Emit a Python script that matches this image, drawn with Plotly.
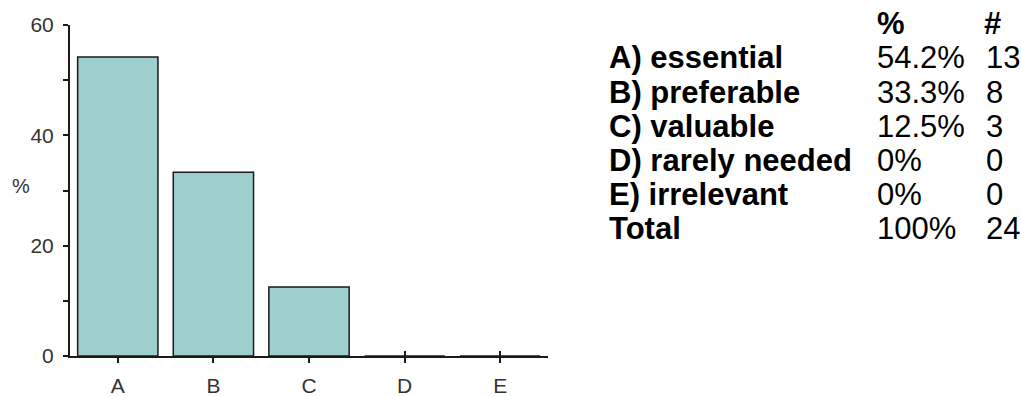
import plotly.graph_objects as go

categories = ["A", "B", "C", "D", "E"]
labels = ["A) essential", "B) preferable", "C) valuable", "D) rarely needed", "E) irrelevant"]
percents = [54.2, 33.3, 12.5, 0, 0]
pct_text = ["54.2%", "33.3%", "12.5%", "0%", "0%"]
counts = [13, 8, 3, 0, 0]
total_pct = "100%"
total_count = 24
y_ticks = [0, 20, 40, 60]

W, H = 1021, 396
L, R, T, B = 70, 473, 25, 40
pw, ph = W - L - R, H - T - B

fig = go.Figure()
fig.add_trace(go.Bar(
    x=categories, y=percents,
    marker=dict(color="#9FCECE", line=dict(color="#1a1a1a", width=1.5)),
    width=0.84, hoverinfo="skip",
))
# invisible helper so the overlaid tick-only axis is drawn
fig.add_trace(go.Scatter(x=categories, y=[None] * len(categories), xaxis="x2",
                         mode="markers", hoverinfo="skip", showlegend=False))

sans = "Liberation Sans, Arial, sans-serif"
tick_font = dict(family=sans, size=21, color="#333333")
axis_col = "#1a1a1a"

fig.update_layout(
    width=W, height=H,
    margin=dict(l=L, r=R, t=T, b=B, pad=0, autoexpand=False),
    paper_bgcolor="white", plot_bgcolor="white",
    showlegend=False,
    xaxis=dict(
        type="category", range=[-0.5, 4.5], categoryorder="array", categoryarray=categories,
        showgrid=False, zeroline=False, automargin=False,
        showline=True, linecolor=axis_col, linewidth=2,
        ticks="outside", ticklen=5, tickwidth=2, tickcolor=axis_col,
        tickfont=tick_font, ticklabelstandoff=5,
    ),
    xaxis2=dict(
        type="category", range=[-0.5, 4.5], categoryorder="array", categoryarray=categories,
        overlaying="x", anchor="y", side="bottom", automargin=False,
        showgrid=False, zeroline=False, showline=False,
        ticks="inside", ticklen=5, tickwidth=2, tickcolor=axis_col,
        tickvals=categories, showticklabels=False, layer="below traces",
    ),
    yaxis=dict(
        range=[0, 60], tickvals=y_ticks, showgrid=False, zeroline=False, automargin=False,
        showline=True, linecolor=axis_col, linewidth=2,
        ticks="outside", ticklen=5, tickwidth=2, tickcolor=axis_col,
        tickfont=tick_font, ticklabelstandoff=5,
        minor=dict(dtick=10, ticks="outside", ticklen=5, tickwidth=2, tickcolor=axis_col),
    ),
)

def px_x(p):
    return (p - L) / pw

def px_y(p):
    return (H - B - p) / ph

anns = []
anns.append(dict(text="%", x=px_x(21), y=px_y(186), xref="paper", yref="paper",
                 showarrow=False, xanchor="center", yanchor="middle",
                 font=dict(family=sans, size=20, color="#333333")))

col_label, col_pct, col_cnt = 607, 875, 984
row0 = 24
step = 34

def cell(text, xpx, ypx, bold):
    return dict(text=("<b>%s</b>" % text) if bold else text,
                x=px_x(xpx), y=px_y(ypx), xref="paper", yref="paper",
                showarrow=False, xanchor="left", yanchor="middle",
                font=dict(family=sans, size=31, color="black"))

anns.append(cell("%", col_pct, row0, True))
anns.append(cell("#", col_cnt - 2, row0, True))
for i, (lab, pt, c) in enumerate(zip(labels, pct_text, counts)):
    yy = row0 + step * (i + 1)
    anns.append(cell(lab, col_label, yy, True))
    anns.append(cell(pt, col_pct, yy, False))
    anns.append(cell(str(c), col_cnt, yy, False))
yy = row0 + step * (len(labels) + 1)
anns.append(cell("Total", col_label, yy, True))
anns.append(cell(total_pct, col_pct, yy, False))
anns.append(cell(str(total_count), col_cnt, yy, False))

fig.update_layout(annotations=anns)
fig.write_html("out.html", config={"displayModeBar": False},
               post_script="document.body.style.margin='0px';")
